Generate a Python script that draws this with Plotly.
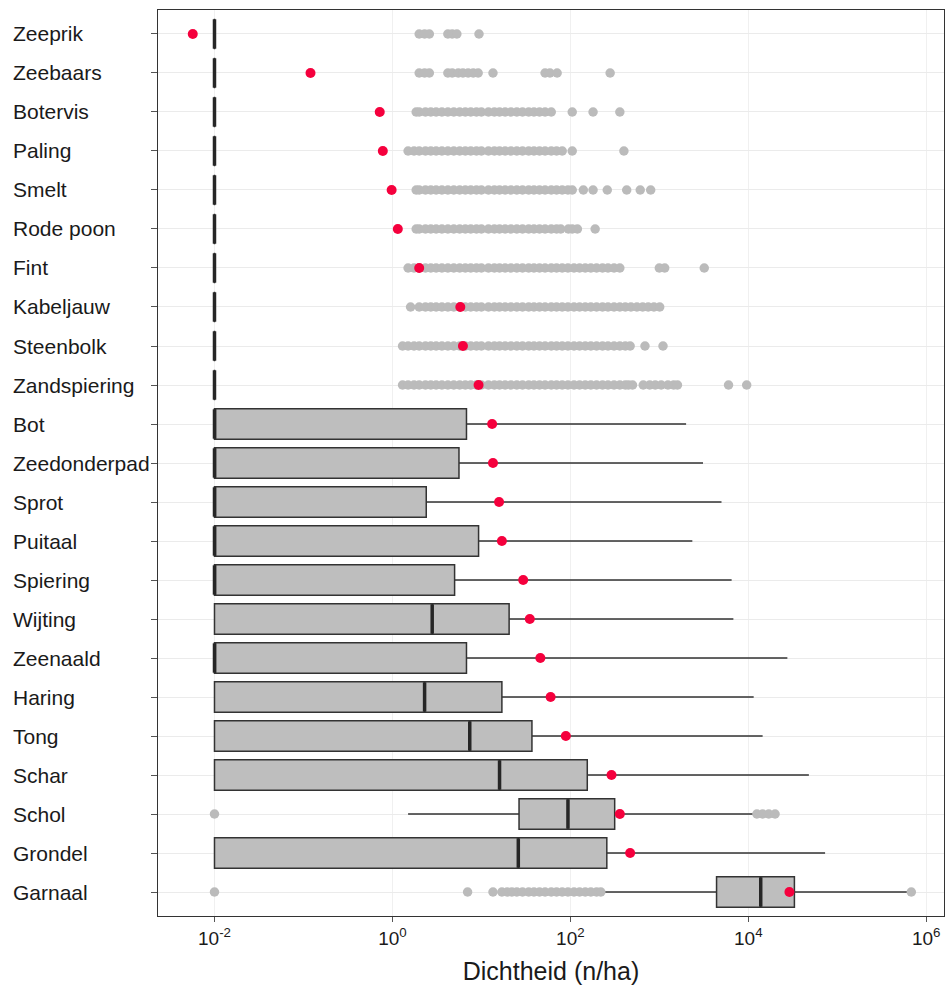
import plotly.graph_objects as go

species = ["Zeeprik", "Zeebaars", "Botervis", "Paling", "Smelt", "Rode poon", "Fint",
           "Kabeljauw", "Steenbolk", "Zandspiering", "Bot", "Zeedonderpad", "Sprot",
           "Puitaal", "Spiering", "Wijting", "Zeenaald", "Haring", "Tong", "Schar",
           "Schol", "Grondel", "Garnaal"]

q1 = [0.01] * 20 + [26.5, 0.01, 4400]
median = [0.01] * 15 + [2.8, 0.01, 2.3, 7.4, 16, 94, 26, 13800]
q3 = [0.01] * 10 + [6.8, 5.6, 2.4, 9.3, 5.0, 20.5, 6.8, 17, 37, 155, 315, 257, 33000]
lowerfence = [0.01] * 20 + [1.5, 0.01, 224]
upperfence = [0.01] * 10 + [2000, 3100, 5000, 2350, 6500, 6800, 27500, 11500, 14500,
                            48000, 11500, 73000, 680000]
mean = [0.0057, 0.12, 0.72, 0.78, 0.98, 1.15, 2.0, 5.8, 6.2, 9.3, 13.2, 13.5, 15.8, 17,
        29.5, 35, 46, 60, 89, 290, 360, 470, 29000]

# outliers (dense bands listed point by point)
out_zeeprik = [2.0, 2.3, 2.6, 4.2, 4.7, 5.3, 9.4]
out_zeebaars = [2.0, 2.3, 2.6, 4.2, 4.7, 5.5, 6.2, 7.1, 8.1, 9.2, 13.5, 52, 59, 71, 280]
out_botervis = [1.85, 2.0, 2.35, 2.7, 3.1, 3.6, 4.2, 4.9, 5.7, 6.6, 7.6, 8.8, 10, 12, 14,
                16, 18.5, 21.5, 25, 29, 34, 39, 45, 52, 61, 105, 180, 360]
out_paling = [1.5, 1.75, 2.0, 2.35, 2.7, 3.1, 3.6, 4.2, 4.9, 5.7, 6.6, 7.6, 8.8, 10, 12,
              14, 16, 18.5, 21.5, 25, 29, 34, 39, 45, 52, 61, 70, 81, 105, 400]
out_smelt = [1.85, 2.0, 2.35, 2.7, 3.1, 3.6, 4.2, 4.9, 5.7, 6.6, 7.6, 8.8, 10, 12, 14, 16,
             18.5, 21.5, 25, 29, 34, 39, 45, 52, 61, 70, 81, 94, 105, 140, 180, 260, 430,
             610, 800]
out_rodepoon = [1.85, 2.0, 2.35, 2.7, 3.1, 3.6, 4.2, 4.9, 5.7, 6.6, 7.6, 8.8, 10, 12, 14,
                16, 18.5, 21.5, 25, 29, 34, 39, 45, 52, 61, 70, 78, 95, 105, 120, 190]
out_fint = [1.5, 1.75, 2.0, 2.35, 2.7, 3.1, 3.6, 4.2, 4.9, 5.7, 6.6, 7.6, 8.8, 10, 12, 14,
            16, 18.5, 21.5, 25, 29, 34, 39, 45, 52, 61, 70, 81, 94, 110, 127, 147, 170,
            197, 230, 265, 310, 360, 1000, 1150, 3200]
out_kabeljauw = [1.6, 2.0, 2.35, 2.7, 3.1, 3.6, 4.2, 4.9, 5.7, 6.6, 7.6, 8.8, 10, 12, 14,
                 16, 18.5, 21.5, 25, 29, 34, 39, 45, 52, 61, 70, 81, 94, 110, 127, 147,
                 170, 197, 230, 265, 310, 360, 415, 480, 560, 650, 750, 870, 1010]
out_steenbolk = [1.3, 1.5, 1.75, 2.0, 2.35, 2.7, 3.1, 3.6, 4.2, 4.9, 5.7, 6.6, 7.6, 8.8,
                 10, 12, 14, 16, 18.5, 21.5, 25, 29, 34, 39, 45, 52, 61, 70, 81, 94, 110,
                 127, 147, 170, 197, 230, 265, 310, 360, 415, 470, 690, 1100]
out_zandspiering = [1.3, 1.5, 1.75, 2.0, 2.35, 2.7, 3.1, 3.6, 4.2, 4.9, 5.7, 6.6, 7.6,
                    8.8, 10, 12, 14, 16, 18.5, 21.5, 25, 29, 34, 39, 45, 52, 61, 70, 81,
                    94, 110, 127, 147, 170, 197, 230, 265, 310, 360, 415, 450, 500, 660,
                    780, 900, 1050, 1250, 1450, 1600, 6000, 9600]
out_schol = [0.01, 12500, 14500, 17000, 20000]
out_garnaal = [0.01, 7.0, 13.5, 17, 19.5, 22, 25, 29, 34, 39, 45, 52, 61, 70, 81, 94, 110,
               127, 147, 170, 197, 220, 680000]

outlier_lists = [
    ("Zeeprik", out_zeeprik), ("Zeebaars", out_zeebaars), ("Botervis", out_botervis),
    ("Paling", out_paling), ("Smelt", out_smelt), ("Rode poon", out_rodepoon),
    ("Fint", out_fint), ("Kabeljauw", out_kabeljauw), ("Steenbolk", out_steenbolk),
    ("Zandspiering", out_zandspiering), ("Schol", out_schol), ("Garnaal", out_garnaal),
]

tick_vals = [1e-2, 1, 1e2, 1e4, 1e6]
tick_text = ["10<sup>-2</sup>", "10<sup>0</sup>", "10<sup>2</sup>", "10<sup>4</sup>",
             "10<sup>6</sup>"]

FONT = "Liberation Sans, Arial, Helvetica, sans-serif"

fig = go.Figure()

fig.add_trace(go.Box(
    y=species, q1=q1, median=median, q3=q3,
    lowerfence=lowerfence, upperfence=upperfence,
    orientation="h", boxpoints=False, width=0.78, whiskerwidth=0,
    fillcolor="#bebebe", line=dict(color="#333333", width=1.5),
    showlegend=False, hoverinfo="skip",
))

ox, oy = [], []
for name, vals in outlier_lists:
    ox.extend(vals)
    oy.extend([name] * len(vals))
fig.add_trace(go.Scatter(
    x=ox, y=oy, mode="markers",
    marker=dict(size=9.5, color="#bbbbbb", line=dict(width=0)),
    showlegend=False, hoverinfo="skip",
))

fig.add_trace(go.Scatter(
    x=median, y=species, mode="markers",
    marker=dict(symbol="line-ns", size=21, line=dict(width=3.5, color="#262626")),
    showlegend=False, hoverinfo="skip",
))

fig.add_trace(go.Scatter(
    x=mean, y=species, mode="markers",
    marker=dict(size=10, color="#f5003d", line=dict(width=0)),
    showlegend=False, hoverinfo="skip",
))

for name in species:
    fig.add_annotation(
        x=(11 - 158) / 786, xref="paper", y=name, yref="y",
        text=name, showarrow=False, xanchor="left", yanchor="middle",
        font=dict(family=FONT, size=21, color="#1a1a1a"),
    )

fig.update_layout(
    width=945, height=991,
    margin=dict(l=158, r=1, t=10, b=75),
    paper_bgcolor="white", plot_bgcolor="white",
    font=dict(family=FONT, color="#1a1a1a"),
    showlegend=False,
)

fig.update_xaxes(
    type="log", range=[-2.635, 6.2],
    tickvals=tick_vals, ticktext=tick_text,
    tickfont=dict(family=FONT, size=19, color="#1a1a1a"),
    ticks="outside", ticklen=5, tickcolor="#555555",
    showgrid=True, gridcolor="#f0f0f0", gridwidth=1,
    showline=True, mirror=True, linecolor="#333333", linewidth=1,
    zeroline=False,
    title=dict(text="Dichtheid (n/ha)", font=dict(family=FONT, size=25, color="#1a1a1a"),
               standoff=14),
)

fig.update_yaxes(
    categoryorder="array", categoryarray=species,
    range=[len(species) - 1 + 0.615, -0.615],
    showticklabels=False,
    ticks="outside", ticklen=6, tickcolor="#555555",
    showgrid=True, gridcolor="#ebebeb", gridwidth=1,
    showline=True, mirror=True, linecolor="#333333", linewidth=1,
    zeroline=False,
)

fig.write_html(
    "out.html",
    config={"displayModeBar": False},
    post_script=(
        "document.body.style.margin='0';"
        "document.body.style.overflow='hidden';"
        "document.documentElement.style.overflow='hidden';"
    ),
)
